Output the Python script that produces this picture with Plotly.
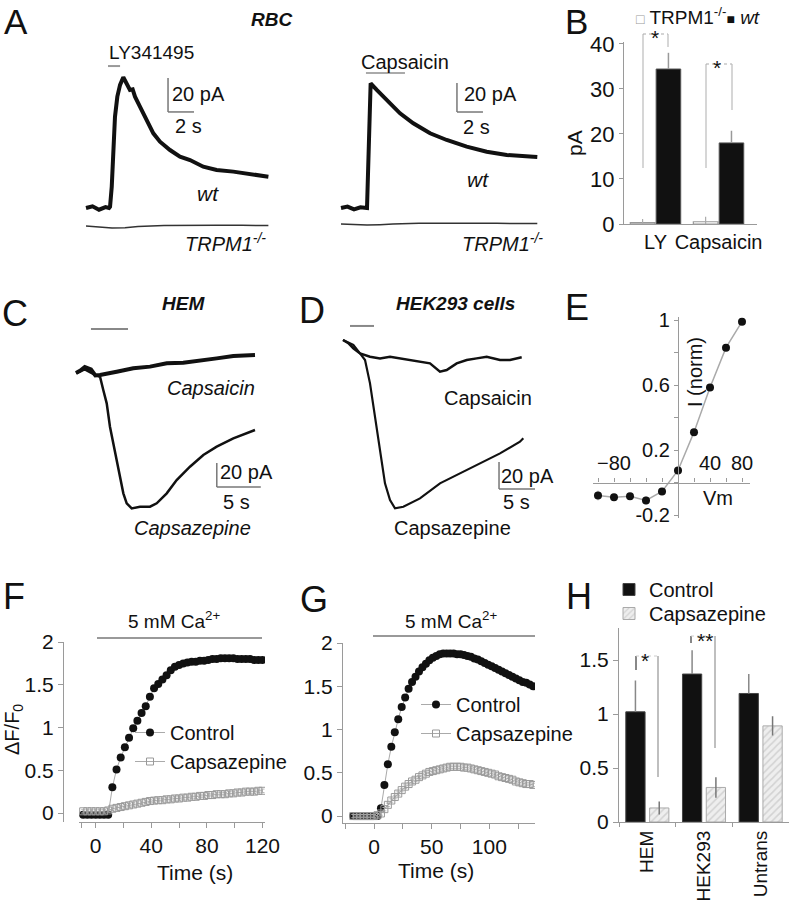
import plotly.graph_objects as go

# ====================== DATA ======================
# Panel A, RBC, LY341495 application: time (s), current (pA)
a_ly_time = [0, 0.5, 1.0, 1.5, 1.77, 1.85, 1.98, 2.10, 2.23, 2.41, 2.62, 2.87, 3.13, 3.38,
             3.59, 3.77, 4.15, 4.67, 5.18, 5.69, 6.46, 7.23, 8.0, 9.02, 10.05, 11.33, 12.62, 14.03]
a_ly_wt = [0, 1, -1, 0.5, 0, 0.8, 12.5, 34.1, 53.7, 65.5, 72.4, 76.9, 73.3, 69.4,
           69.8, 65.5, 59.6, 51.8, 43.9, 39.0, 34.1, 30.2, 28.2, 24.3, 22.4, 21.4, 20.0, 18.4]
a_ly_trpm1_time = [0, 1, 2, 3, 4, 6, 8, 10, 12, 14.03]
a_ly_trpm1 = [0, -0.5, -1.2, -1.0, -0.3, 0.3, 0.6, 0.5, 0.4, 0.3]
a_ly_application = [1.69, 2.62]

# Panel A, RBC, capsaicin application
a_cap_time = [0, 0.5, 1.0, 1.5, 2.0, 2.15, 2.28, 2.75, 3.52, 4.54, 5.56, 6.85, 8.13, 9.67,
              11.21, 12.75, 14.79, 15.1]
a_cap_wt = [0, 1, -1, 0.5, 0, 40, 86.0, 81.4, 74.5, 65.3, 58.4, 51.5, 46.9, 42.3,
            38.8, 36.6, 35.4, 35.2]
a_cap_trpm1_time = [0, 1, 2, 3, 4, 6, 8, 10, 12, 15.1]
a_cap_trpm1 = [0, -0.3, -0.8, -0.5, 0, 0.4, 0.6, 0.5, 0.4, 0.3]
a_cap_application = [1.92, 4.92]

# Panel B: mean current (pA)
b_cats = ["LY", "Capsaicin"]
b_trpm1 = [0.3, 0.5]
b_trpm1_err = [0.8, 1.1]
b_wt = [34.4, 18.0]
b_wt_err = [3.6, 2.7]

# Panel C, HEM cells: time (s), current (pA)
c_capsaicin_time = [0, 0.5, 1.0, 1.7, 2.2, 2.73, 4.62, 6.51, 8.41, 10.31, 12.19, 14.09, 15.99, 17.88, 20.34]
c_capsaicin = [0, 2, 5, 3, -2, -1.7, 1.1, 3.9, 5.3, 8.1, 8.6, 10.8, 12.2, 14.2, 15.0]
c_capsazepine_time = [0, 1.0, 2.0, 2.73, 3.10, 3.49, 3.86, 4.24, 4.63, 5.0, 5.38, 5.76, 6.33, 7.27,
                      8.41, 9.17, 10.31, 11.44, 12.95, 14.47, 15.99, 17.88, 20.34]
c_capsazepine = [0, 3, -1, -3.1, -14.2, -25.3, -44.8, -58.6, -72.5, -86.4, -100.3, -108.6, -112.8, -111.4,
                 -111.4, -108.6, -100.3, -89.2, -78.1, -68.3, -61.4, -54.4, -47.5]
c_application = [1.70, 5.91]

# Panel D, HEK293 cells
d_capsaicin_time = [0, 0.74, 1.43, 2.36, 3.75, 5.14, 6.53, 7.92, 9.31, 10.69, 12.08, 13.47, 14.40,
                    15.79, 17.18, 18.57, 19.96, 21.81, 23.19, 24.82]
d_capsaicin = [0, -2.4, -6.1, -9.9, -12.4, -13.6, -12.4, -13.6, -14.8, -16.1, -17.3, -23.5, -22.2,
               -17.3, -14.8, -13.6, -12.4, -14.8, -14.8, -12.8]
d_capsazepine_time = [0, 1.43, 2.36, 3.06, 3.75, 4.44, 5.14, 5.83, 6.53, 7.22, 8.38, 10.69, 13.47,
                      16.25, 19.03, 21.81, 24.58, 25.04]
d_capsazepine = [0, -3.7, -9.9, -14.8, -32.1, -56.8, -81.5, -106.2, -118.5, -124.7, -123.5, -117.3,
                 -106.2, -98.8, -91.4, -84.0, -75.3, -72.8]
d_application = [0.97, 4.31]

# Scale bars
SCALE_PA = 20
SCALE_S_A = 2
SCALE_S_CD = 5

# Panel E: I-V relation
e_vm = [-100, -80, -60, -40, -20, 0, 20, 40, 60, 80]
e_inorm = [-0.08, -0.09, -0.085, -0.11, -0.055, 0.074, 0.31, 0.585, 0.83, 0.99]
e_err = [0.03, 0.02, 0.02, 0.025, 0.02, 0.01, 0.01, 0.01, 0.01, 0.0]
e_xtickvals = [-80, 40, 80]
e_xminor = [-100, -60, -40, -20, 0, 20, 60]
e_ytickvals = [-0.2, 0.2, 0.6, 1.0]
e_yticktext = ["-0.2", "0.2", "0.6", "1"]
e_yminor = [0, 0.4, 0.8]

# Panel F: dF/F0 vs time, HEM
f_time = [-9, -6, -3, 0, 3, 6, 9, 12, 15, 18, 21, 24, 27, 30, 33, 36, 39, 42, 45, 48, 51, 54,
          57, 60, 63, 66, 69, 72, 75, 78, 81, 84, 87, 90, 93, 96, 99, 102, 105, 108, 111, 114, 117, 120]
f_control = [-0.02, -0.02, -0.02, -0.02, -0.02, -0.02, -0.02, 0.30, 0.51, 0.65, 0.77, 0.88, 0.99,
             1.08, 1.17, 1.25, 1.36, 1.46, 1.51, 1.56, 1.61, 1.67, 1.71, 1.73, 1.75, 1.76, 1.77,
             1.77, 1.78, 1.78, 1.79, 1.80, 1.80, 1.81, 1.81, 1.81, 1.81, 1.80, 1.80, 1.80, 1.80,
             1.79, 1.79, 1.79]
f_capsazepine = [0.02, 0.02, 0.02, 0.02, 0.02, 0.02, 0.03, 0.05, 0.06, 0.07, 0.08, 0.09, 0.10,
                 0.11, 0.12, 0.13, 0.14, 0.145, 0.15, 0.15, 0.16, 0.16, 0.17, 0.17, 0.18, 0.18,
                 0.19, 0.19, 0.20, 0.20, 0.21, 0.21, 0.22, 0.22, 0.22, 0.23, 0.23, 0.24, 0.24,
                 0.25, 0.25, 0.25, 0.26, 0.26]
f_capsazepine_sem = 0.02
f_xtickvals = [0, 40, 80, 120]
f_xminor = [-10, 20, 60, 100]
fg_ytickvals = [0, 0.5, 1, 1.5, 2]
fg_yticktext = ["0", "0.5", "1", "1.5", "2"]

# Panel G: dF/F0 vs time, HEK293
g_time = [-18, -15, -12, -9, -6, -3, 0, 3, 6, 9, 12, 15, 18, 21, 24, 27, 30, 33, 36, 39, 42, 45,
          48, 51, 54, 57, 60, 63, 66, 69, 72, 75, 78, 81, 84, 87, 90, 93, 96, 99, 102, 105, 108,
          111, 114, 117, 120, 123, 126, 129, 132, 135, 138]
g_control = [0, 0, 0, 0, 0, 0, 0, 0, 0.09, 0.36, 0.60, 0.80, 0.97, 1.12, 1.26, 1.37, 1.47, 1.55,
             1.61, 1.67, 1.72, 1.76, 1.80, 1.83, 1.85, 1.87, 1.88, 1.88, 1.88, 1.88, 1.87, 1.87,
             1.86, 1.85, 1.84, 1.82, 1.81, 1.79, 1.77, 1.75, 1.73, 1.71, 1.69, 1.67, 1.65, 1.63,
             1.61, 1.59, 1.57, 1.55, 1.54, 1.52, 1.50]
g_capsazepine = [0, 0, 0, 0, 0, 0, 0, 0.01, 0.03, 0.08, 0.13, 0.18, 0.22, 0.26, 0.30, 0.34, 0.37,
                 0.40, 0.42, 0.45, 0.47, 0.49, 0.51, 0.52, 0.53, 0.54, 0.55, 0.56, 0.57, 0.57,
                 0.57, 0.57, 0.56, 0.56, 0.55, 0.54, 0.53, 0.52, 0.51, 0.50, 0.49, 0.48, 0.46,
                 0.45, 0.44, 0.43, 0.42, 0.40, 0.39, 0.38, 0.37, 0.37, 0.36]
g_capsazepine_sem = 0.02
g_xtickvals = [0, 50, 100]
g_xminor = [-25, 25, 75, 125]

# Panel H: peak dF/F0
h_cats = ["HEM", "HEK293", "Untrans"]
h_control = [1.02, 1.37, 1.19]
h_control_err = [0.29, 0.22, 0.18]
h_capsazepine = [0.13, 0.32, 0.89]
h_capsazepine_err = [0.06, 0.095, 0.09]
h_ytickvals = [0, 0.5, 1, 1.5]
h_yticktext = ["0", "0.5", "1", "1.5"]

# ====================== LAYOUT HELPERS ======================
W, H = 789, 903
FONT = "Liberation Sans, Arial, Helvetica, sans-serif"
AX = "#9a9a9a"
INK = "#111111"


def px(x):
    return x / W


def py(y):
    return 1 - y / H


def dom_x(a, b):
    return [a / W, b / W]


def dom_y(top, bottom):
    return [1 - bottom / H, 1 - top / H]


def hidden(domain, rng, anchor):
    return dict(visible=False, showticklabels=False, domain=domain, range=rng, anchor=anchor,
                fixedrange=True)


def shown(**kw):
    base = dict(showline=True, linecolor=AX, linewidth=1.2, ticks="outside", tickcolor=AX,
                ticklen=5, tickwidth=1.2, showgrid=False, zeroline=False, automargin=False,
                tickfont=dict(family=FONT, size=21, color=INK))
    base.update(kw)
    return base


def minor(vals, length=5):
    return dict(tickmode="array", tickvals=vals, ticks="outside", ticklen=length,
                tickcolor=AX, tickwidth=1.2, showgrid=False)


fig = go.Figure()

# ---------------- Panel A ----------------
A_TRPM1_OFFSET_L = -10.6
A_TRPM1_OFFSET_R = -11.0
fig.add_trace(go.Scatter(x=a_ly_time, y=a_ly_wt, xaxis="x", yaxis="y", mode="lines",
                         line=dict(color=INK, width=4), showlegend=False, hoverinfo="skip"))
fig.add_trace(go.Scatter(x=a_ly_trpm1_time, y=[v + A_TRPM1_OFFSET_L for v in a_ly_trpm1],
                         xaxis="x", yaxis="y", mode="lines", line=dict(color="#333", width=1.5),
                         showlegend=False, hoverinfo="skip"))
fig.add_trace(go.Scatter(x=a_cap_time, y=a_cap_wt, xaxis="x2", yaxis="y2", mode="lines",
                         line=dict(color=INK, width=4), showlegend=False, hoverinfo="skip"))
fig.add_trace(go.Scatter(x=a_cap_trpm1_time, y=[v + A_TRPM1_OFFSET_R for v in a_cap_trpm1],
                         xaxis="x2", yaxis="y2", mode="lines", line=dict(color="#333", width=1.5),
                         showlegend=False, hoverinfo="skip"))

# ---------------- Panel B ----------------
fig.add_trace(go.Bar(x=b_cats, y=b_trpm1, xaxis="x3", yaxis="y3", width=0.39, offset=-0.4,
                     marker=dict(color="white", line=dict(color="#999", width=1.2)),
                     error_y=dict(type="data", array=b_trpm1_err, color="#aaa", thickness=1.2, width=0),
                     showlegend=False, hoverinfo="skip"))
fig.add_trace(go.Bar(x=b_cats, y=b_wt, xaxis="x3", yaxis="y3", width=0.39, offset=0.01,
                     marker=dict(color=INK, line=dict(color="#555", width=1)),
                     error_y=dict(type="data", array=b_wt_err, arrayminus=[0, 0], symmetric=False,
                                  color="#999", thickness=1.5, width=0),
                     showlegend=False, hoverinfo="skip"))

# ---------------- Panel C / D ----------------
fig.add_trace(go.Scatter(x=c_capsaicin_time, y=c_capsaicin, xaxis="x4", yaxis="y4", mode="lines",
                         line=dict(color=INK, width=4), showlegend=False, hoverinfo="skip"))
fig.add_trace(go.Scatter(x=c_capsazepine_time, y=c_capsazepine, xaxis="x4", yaxis="y4", mode="lines",
                         line=dict(color=INK, width=2.5), showlegend=False, hoverinfo="skip"))
fig.add_trace(go.Scatter(x=d_capsaicin_time, y=d_capsaicin, xaxis="x5", yaxis="y5", mode="lines",
                         line=dict(color=INK, width=2.5), showlegend=False, hoverinfo="skip"))
fig.add_trace(go.Scatter(x=d_capsazepine_time, y=d_capsazepine, xaxis="x5", yaxis="y5", mode="lines",
                         line=dict(color=INK, width=2.2), showlegend=False, hoverinfo="skip"))

# ---------------- Panel E ----------------
fig.add_trace(go.Scatter(x=e_vm, y=e_inorm, xaxis="x6", yaxis="y6", mode="lines+markers",
                         line=dict(color="#aaa", width=1.5),
                         marker=dict(color=INK, size=8),
                         error_y=dict(type="data", array=e_err, color="#aaa", thickness=1, width=0),
                         showlegend=False, hoverinfo="skip"))

# ---------------- Panel F ----------------
fig.add_trace(go.Scatter(x=f_time, y=f_control, xaxis="x7", yaxis="y7", mode="lines+markers",
                         name="Control", legend="legend",
                         line=dict(color="#aaa", width=1), marker=dict(color=INK, size=8)))
fig.add_trace(go.Scatter(x=f_time, y=f_capsazepine, xaxis="x7", yaxis="y7", mode="lines+markers",
                         name="Capsazepine", legend="legend",
                         line=dict(color="#aaa", width=1),
                         marker=dict(color="#999", size=7, symbol="square-open", line=dict(width=1)),
                         error_y=dict(type="constant", value=f_capsazepine_sem, color="#bbb",
                                      thickness=1, width=2)))

# ---------------- Panel G ----------------
fig.add_trace(go.Scatter(x=g_time, y=g_control, xaxis="x8", yaxis="y8", mode="lines+markers",
                         name="Control", legend="legend2",
                         line=dict(color="#aaa", width=1), marker=dict(color=INK, size=8)))
fig.add_trace(go.Scatter(x=g_time, y=g_capsazepine, xaxis="x8", yaxis="y8", mode="lines+markers",
                         name="Capsazepine", legend="legend2",
                         line=dict(color="#aaa", width=1),
                         marker=dict(color="#999", size=7, symbol="square-open", line=dict(width=1)),
                         error_y=dict(type="constant", value=g_capsazepine_sem, color="#bbb",
                                      thickness=1, width=2)))

# ---------------- Panel H ----------------
fig.add_trace(go.Bar(x=h_cats, y=h_control, xaxis="x9", yaxis="y9", width=0.34, offset=-0.38,
                     name="Control", legend="legend3",
                     marker=dict(color=INK, line=dict(color="#444", width=1)),
                     error_y=dict(type="data", array=h_control_err, arrayminus=[0, 0, 0],
                                  symmetric=False, color="#888", thickness=1.5, width=0)))
fig.add_trace(go.Bar(x=h_cats, y=h_capsazepine, xaxis="x9", yaxis="y9", width=0.34, offset=0.04,
                     name="Capsazepine", legend="legend4",
                     marker=dict(color="#eeeeee", line=dict(color="#aaa", width=1),
                                 pattern=dict(shape="/", fgcolor="#b5b5b5", size=5, solidity=0.3)),
                     error_y=dict(type="data", array=h_capsazepine_err, color="#777",
                                  thickness=1.5, width=0)))

# ====================== AXES ======================
layout_axes = dict(
    xaxis=hidden(dom_x(80, 275), [(80 - 86) / 13, (275 - 86) / 13], "y"),
    yaxis=hidden(dom_y(40, 240), [(208 - 240) / 1.7, (208 - 40) / 1.7], "x"),
    xaxis2=hidden(dom_x(335, 545), [(335 - 341) / 13, (545 - 341) / 13], "y2"),
    yaxis2=hidden(dom_y(40, 240), [(208 - 240) / 1.45, (208 - 40) / 1.45], "x2"),
    xaxis3=shown(domain=dom_x(624, 757), range=[-0.5, 1.61], type="category", anchor="y3",
                 ticks="", tickfont=dict(family=FONT, size=20, color=INK)),
    yaxis3=shown(domain=dom_y(42, 224), range=[0, 40.4], anchor="x3",
                 tickvals=[0, 10, 20, 30, 40], ticklen=4,
                 tickfont=dict(family=FONT, size=22, color=INK)),
    xaxis4=hidden(dom_x(70, 265), [(70 - 76) / 8.8, (265 - 76) / 8.8], "y4"),
    yaxis4=hidden(dom_y(315, 520), [(373 - 520) / 1.2, (373 - 315) / 1.2], "x4"),
    xaxis5=hidden(dom_x(335, 545), [(335 - 343) / 7.2, (545 - 343) / 7.2], "y5"),
    yaxis5=hidden(dom_y(315, 520), [(340 - 520) / 1.35, (340 - 315) / 1.35], "x5"),
    xaxis6=shown(domain=dom_x(593, 750), range=[-106.25, 90], anchor="free", position=py(482.5),
                 side="top", tickvals=e_xtickvals, ticklen=4, minor=minor(e_xminor, 4),
                 tickfont=dict(family=FONT, size=20, color=INK)),
    yaxis6=shown(domain=dom_y(316.75, 518.25), range=[-0.22, 1.02], anchor="free", position=px(678),
                 tickvals=e_ytickvals, ticktext=e_yticktext, ticklen=4, minor=minor(e_yminor, 4),
                 tickfont=dict(family=FONT, size=20, color=INK)),
    xaxis7=shown(domain=dom_x(79, 265), range=[-12, 121.8], anchor="y7",
                 tickvals=f_xtickvals, minor=minor(f_xminor)),
    yaxis7=shown(domain=dom_y(642, 822), range=[-0.105, 2.0], anchor="free", position=px(63),
                 tickvals=fg_ytickvals, ticktext=fg_yticktext),
    xaxis8=shown(domain=dom_x(343, 535), range=[-26.9, 139.6], anchor="y8",
                 tickvals=g_xtickvals, minor=minor(g_xminor)),
    yaxis8=shown(domain=dom_y(643, 823), range=[-0.08, 2.0], anchor="x8",
                 tickvals=fg_ytickvals, ticktext=fg_yticktext),
    xaxis9=shown(domain=dom_x(619, 789), range=[-0.5, 2.5], type="category", anchor="y9",
                 tickson="boundaries", tickangle=-90, ticklen=4,
                 tickfont=dict(family=FONT, size=19, color=INK)),
    yaxis9=shown(domain=dom_y(627.6, 822), range=[0, 1.8], anchor="x9",
                 tickvals=h_ytickvals, ticktext=h_yticktext),
)

# ====================== SHAPES ======================
shapes = []


def pline(x0, y0, x1, y1, color="#999", width=1.5, dash="solid"):
    shapes.append(dict(type="line", xref="paper", yref="paper", x0=px(x0), y0=py(y0),
                       x1=px(x1), y1=py(y1), line=dict(color=color, width=width, dash=dash)))


def dline(xr, yr, x0, y0, x1, y1, color="#888", width=1.5):
    shapes.append(dict(type="line", xref=xr, yref=yr, x0=x0, y0=y0, x1=x1, y1=y1,
                       line=dict(color=color, width=width)))


# drug application bars
dline("x", "y", a_ly_application[0], 83.5, a_ly_application[1], 83.5, "#999", 2)
dline("x2", "y2", a_cap_application[0], 93.1, a_cap_application[1], 93.1, "#aaa", 2)
dline("x4", "y4", c_application[0], 36.7, c_application[1], 36.7, "#888", 2)
dline("x5", "y5", d_application[0], 10.4, d_application[1], 10.4, "#888", 2)

# scale bars (anchored at a corner point; lengths from the scale values)
for xr, yr, t0, p0, s in [("x", "y", 6.31, 56.5, SCALE_S_A), ("x2", "y2", 8.92, 66.2, SCALE_S_A),
                          ("x4", "y4", 16.0, -95.0, SCALE_S_CD), ("x5", "y5", 21.67, -110.4, SCALE_S_CD)]:
    dline(xr, yr, t0, p0, t0, p0 + SCALE_PA, "#777", 1.5)
    dline(xr, yr, t0, p0, t0 + s, p0, "#777", 1.5)

# Ca2+ application lines (F, G)
pline(97, 638, 262, 638, "#999", 1.8)
pline(373, 636, 535, 636, "#999", 1.8)

# significance brackets B
pline(643, 34, 643, 168, "#bbb", 1.2)
pline(643, 34, 668, 34, "#aaa", 1.2, "dot")
pline(668, 34, 668, 47, "#bbb", 1.2)
pline(706, 64, 706, 168, "#bbb", 1.2)
pline(706, 64, 732, 64, "#aaa", 1.2, "dot")
pline(732, 64, 732, 110, "#bbb", 1.2)
# significance brackets H
pline(636, 656, 636, 670, "#888", 2)
pline(636, 656, 658, 656, "#ccc", 1, "dot")
pline(658, 656, 658, 777, "#aaa", 1.5)
pline(691, 636, 691, 643, "#888", 2)
pline(691, 636, 715, 636, "#ccc", 1, "dot")
pline(715, 636, 715, 748, "#aaa", 1.5)

# ====================== ANNOTATIONS ======================
annotations = []


def ann(x, y, text, size=20, xanchor="center", angle=0, yanchor="middle"):
    annotations.append(dict(x=px(x), y=py(y), xref="paper", yref="paper", text=text,
                            showarrow=False, xanchor=xanchor, yanchor=yanchor, textangle=angle,
                            font=dict(family=FONT, size=size, color=INK)))


ann(16, 0, "A", 35, yanchor="top")
ann(576, 0, "B", 35, yanchor="top")
for letter, lx, ly in [("C", 15, 313), ("D", 312, 310), ("E", 577, 308), ("F", 14, 596),
                       ("G", 314, 599), ("H", 579, 596)]:
    ann(lx, ly, letter, 36)

# A
ann(271, 20, "<b><i>RBC</i></b>", 19)
ann(151, 52, "LY341495", 19)
ann(199, 94, "20 pA", 20)
ann(188, 126, "2 s", 20)
ann(208, 193, "<i>wt</i>", 21)
ann(268, 242, "<i>TRPM1<sup>-/-</sup></i>", 20, "right")
ann(405, 62, "Capsaicin", 20)
ann(490, 94, "20 pA", 20)
ann(477, 127, "2 s", 20)
ann(478, 180, "<i>wt</i>", 21)
ann(545, 242, "<i>TRPM1<sup>-/-</sup></i>", 20, "right")
# B
ann(634, 16, '<span style="color:#999;font-size:14px">□</span> TRPM1<sup>-/-</sup>'
             '<span style="font-size:14px">■</span> <i>wt</i>', 19, "left")
ann(575, 143, "pA", 21, angle=-90)
ann(655, 38, "*", 21)
ann(717, 68, "*", 21)
# C
ann(183, 303, "<b><i>HEM</i></b>", 19)
ann(211, 388, "<i>Capsaicin</i>", 20)
ann(246, 472, "20 pA", 20)
ann(236, 502, "5 s", 20)
ann(192, 528, "<i>Capsazepine</i>", 20)
# D
ann(455, 303, "<b><i>HEK293 cells</i></b>", 19)
ann(488, 398, "Capsaicin", 20)
ann(527, 476, "20 pA", 20)
ann(516, 502, "5 s", 20)
ann(452, 528, "Capsazepine", 20)
# E
ann(695, 372, "I (norm)", 20, angle=-90)
ann(718, 498, "Vm", 20)
# F, G
ann(174, 620, "5 mM Ca<sup>2+</sup>", 19)
ann(13, 730, "ΔF/F<sub>0</sub>", 20, angle=-90)
ann(195, 872, "Time (s)", 21)
ann(451, 620, "5 mM Ca<sup>2+</sup>", 19)
ann(436, 870, "Time (s)", 21)
# H
ann(645, 660, "*", 21)
ann(705, 640, "**", 21)

leg_common = dict(xanchor="left", yanchor="top", bgcolor="rgba(0,0,0,0)", itemwidth=30,
                  tracegroupgap=0, font=dict(family=FONT, size=20, color=INK))

fig.update_layout(
    width=W, height=H, margin=dict(l=0, r=0, t=0, b=0, autoexpand=False),
    paper_bgcolor="white", plot_bgcolor="white",
    barmode="overlay", showlegend=True,
    font=dict(family=FONT, color=INK),
    legend=dict(x=px(130), y=py(713), **leg_common),
    legend2=dict(x=px(416), y=py(685), **leg_common),
    legend3=dict(x=px(609), y=py(570), **leg_common),
    legend4=dict(x=px(609), y=py(594), **leg_common),
    shapes=shapes, annotations=annotations,
    **layout_axes,
)

fig.write_html(
    "out.html",
    config={"displayModeBar": False},
    post_script=("document.documentElement.style.margin='0';document.body.style.margin='0';"
                 "document.documentElement.style.overflow='hidden';document.body.style.overflow='hidden';"),
)
